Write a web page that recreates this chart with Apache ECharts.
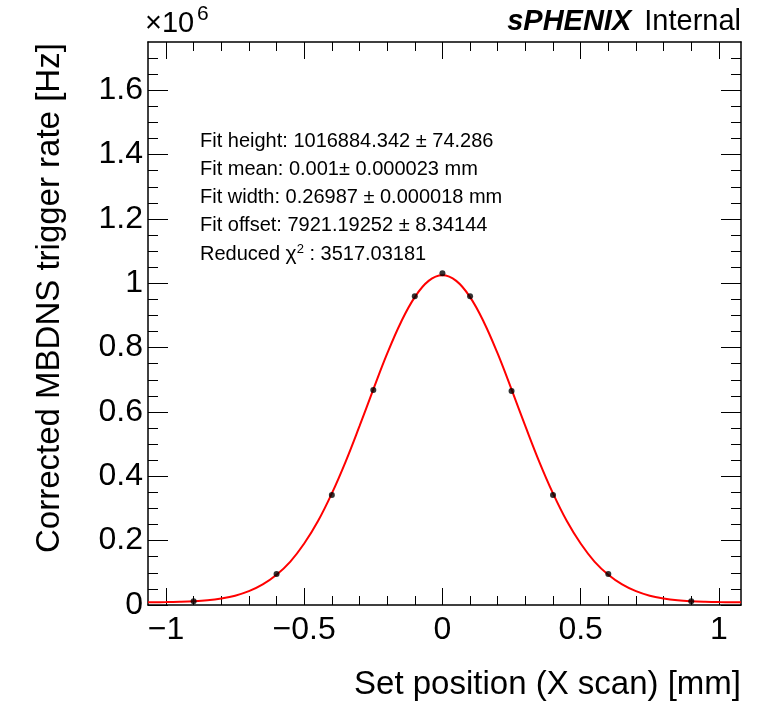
<!DOCTYPE html>
<html>
<head>
<meta charset="utf-8">
<script src="https://cdn.jsdelivr.net/npm/echarts@6/dist/echarts.min.js"></script>
<style>html,body{margin:0;padding:0;background:#fff}#c{width:770px;height:702px}</style>
</head>
<body>
<div id="c"></div>
<script>
// Measured points (x in mm, rate in units of 10^6 Hz)
const xPoints = [-0.9, -0.6, -0.4, -0.25, -0.1, 0, 0.1, 0.25, 0.4, 0.6, 0.9];
const yPoints = [0.012, 0.096, 0.342, 0.668, 0.960, 1.031, 0.960, 0.665, 0.342, 0.096, 0.012];

// Fit curve
const xFit = [-1.065, -1.0, -0.95, -0.9, -0.85, -0.8, -0.75, -0.7, -0.65, -0.6, -0.55, -0.5, -0.45, -0.4, -0.35, -0.3, -0.25, -0.2, -0.15, -0.1, -0.05, 0,
              0.05, 0.1, 0.15, 0.2, 0.25, 0.3, 0.35, 0.4, 0.45, 0.5, 0.55, 0.6, 0.65, 0.7, 0.75, 0.8, 0.85, 0.9, 0.95, 1.0, 1.05, 1.08];
const yFit = [0.0085, 0.0090, 0.0100, 0.0118, 0.0150, 0.0205, 0.029, 0.043, 0.064, 0.094, 0.135, 0.191, 0.261, 0.347, 0.446, 0.556, 0.670, 0.781, 0.879, 0.957, 1.0075, 1.025,
              1.0075, 0.957, 0.879, 0.781, 0.670, 0.556, 0.446, 0.347, 0.261, 0.191, 0.135, 0.094, 0.064, 0.043, 0.029, 0.0205, 0.0150, 0.0118, 0.0100, 0.0090, 0.0086, 0.0084];

// Tick values
const xMajorTicks = [-1, -0.5, 0, 0.5, 1];
const xMinorTicks = [-1.0, -0.9, -0.8, -0.7, -0.6, -0.5, -0.4, -0.3, -0.2, -0.1, 0, 0.1, 0.2, 0.3, 0.4, 0.5, 0.6, 0.7, 0.8, 0.9, 1.0];
const yMajorTicks = [0, 0.2, 0.4, 0.6, 0.8, 1, 1.2, 1.4, 1.6];
const yMinorTicks = [0.05, 0.1, 0.15, 0.25, 0.3, 0.35, 0.45, 0.5, 0.55, 0.65, 0.7, 0.75, 0.85, 0.9, 0.95, 1.05, 1.1, 1.15, 1.25, 1.3, 1.35, 1.45, 1.5, 1.55, 1.65, 1.7];

const fitLines = [
  'Fit height: 1016884.342 \u00b1 74.286',
  'Fit mean: 0.001\u00b1 0.000023 mm',
  'Fit width: 0.26987 \u00b1 0.000018 mm',
  'Fit offset: 7921.19252 \u00b1 8.34144'
];

const FONT = '"Liberation Sans", Arial, Helvetica, sans-serif';
const X_MIN = -1.065, X_MAX = 1.08, Y_MIN = 0, Y_MAX = 1.75;

function xAx(pos, ticks, len, showLabel, showLine) {
  return {
    type: 'value', position: pos, min: X_MIN, max: X_MAX,
    axisLine: { show: showLine, onZero: false, lineStyle: { color: '#000', width: 1.5 } },
    axisTick: { show: true, inside: true, length: len, customValues: ticks, lineStyle: { color: '#000', width: 1 } },
    axisLabel: showLabel ? { show: true, customValues: ticks, fontSize: 32, fontFamily: FONT, color: '#000', margin: 9,
      formatter: v => String(v).replace('-', '\u2212') } : { show: false },
    splitLine: { show: false }
  };
}
function yAx(pos, ticks, len, showLabel, showLine) {
  return {
    type: 'value', position: pos, min: Y_MIN, max: Y_MAX,
    axisLine: { show: showLine, onZero: false, lineStyle: { color: '#000', width: 1.5 } },
    axisTick: { show: true, inside: true, length: len, customValues: ticks, lineStyle: { color: '#000', width: 1 } },
    axisLabel: showLabel ? { show: true, customValues: ticks, fontSize: 32, fontFamily: FONT, color: '#000', margin: 5 } : { show: false },
    splitLine: { show: false }
  };
}

const fitText = fitLines.map((t, i) => ({
  type: 'text', x: 200, y: 141 + i * 28.3,
  style: { text: t, font: '20px ' + FONT, fill: '#000', textVerticalAlign: 'middle', verticalAlign: 'middle' }
}));

const chart = echarts.init(document.getElementById('c'), null, { renderer: 'canvas' });
chart.setOption({
  animation: false,
  backgroundColor: '#fff',
  grid: { left: 148, right: 29, top: 42, bottom: 97, containLabel: false },
  xAxis: [
    xAx('bottom', xMajorTicks, 17, true, true),
    xAx('bottom', xMinorTicks, 9, false, false),
    xAx('top', xMajorTicks, 17, false, true),
    xAx('top', xMinorTicks, 9, false, false)
  ],
  yAxis: [
    yAx('left', yMajorTicks, 20, true, true),
    yAx('left', yMinorTicks, 10, false, false),
    yAx('right', yMajorTicks, 20, false, true),
    yAx('right', yMinorTicks, 10, false, false)
  ],
  series: [
    {
      type: 'line', xAxisIndex: 0, yAxisIndex: 0, smooth: 0.4, showSymbol: false, symbol: 'none',
      data: xFit.map((x, i) => [x, yFit[i]]),
      lineStyle: { color: '#ff0000', width: 2 }, z: 3
    },
    {
      type: 'scatter', xAxisIndex: 0, yAxisIndex: 0, symbol: 'circle', symbolSize: 6,
      data: xPoints.map((x, i) => [x, yPoints[i]]),
      itemStyle: { color: '#000' }, z: 4
    }
  ],
  graphic: [
    { type: 'text', x: 145, y: 38, style: { text: '\u00d710', font: '29px ' + FONT, fill: '#000', verticalAlign: 'bottom', textVerticalAlign: 'bottom' } },
    { type: 'text', x: 197, y: 25, style: { text: '6', font: '21px ' + FONT, fill: '#000', verticalAlign: 'bottom', textVerticalAlign: 'bottom' } },
    { type: 'text', x: 741, y: 22, style: {
        text: '{b|sPHENIX}{g| }{n|Internal}', align: 'right', textAlign: 'right', verticalAlign: 'middle', textVerticalAlign: 'middle',
        rich: { b: { font: 'italic bold 29px ' + FONT, fill: '#000', color: '#000' }, g: { font: '29px ' + FONT, width: 13 }, n: { font: '29px ' + FONT, fill: '#000', color: '#000' } } } },
    { type: 'text', x: 50, y: 553, rotation: Math.PI / 2,
      style: { text: 'Corrected MBDNS trigger rate [Hz]', font: '33px ' + FONT, fill: '#000', align: 'left', textAlign: 'left', verticalAlign: 'middle', textVerticalAlign: 'middle' } },
    { type: 'text', x: 741, y: 685,
      style: { text: 'Set position (X scan) [mm]', font: '33px ' + FONT, fill: '#000', align: 'right', textAlign: 'right', verticalAlign: 'middle', textVerticalAlign: 'middle' } },
    ...fitText,
    { type: 'text', x: 200, y: 254.2,
      style: { text: 'Reduced {c|\u03c7}{s|2} : 3517.03181', font: '20px ' + FONT, fill: '#000', verticalAlign: 'middle', textVerticalAlign: 'middle',
        rich: { c: { font: '21px ' + FONT, fill: '#000', color: '#000' }, s: { font: '13px ' + FONT, fill: '#000', color: '#000', verticalAlign: 'top', padding: [0, 0, 10, 0] } } } }
  ]
});
</script>
</body>
</html>
